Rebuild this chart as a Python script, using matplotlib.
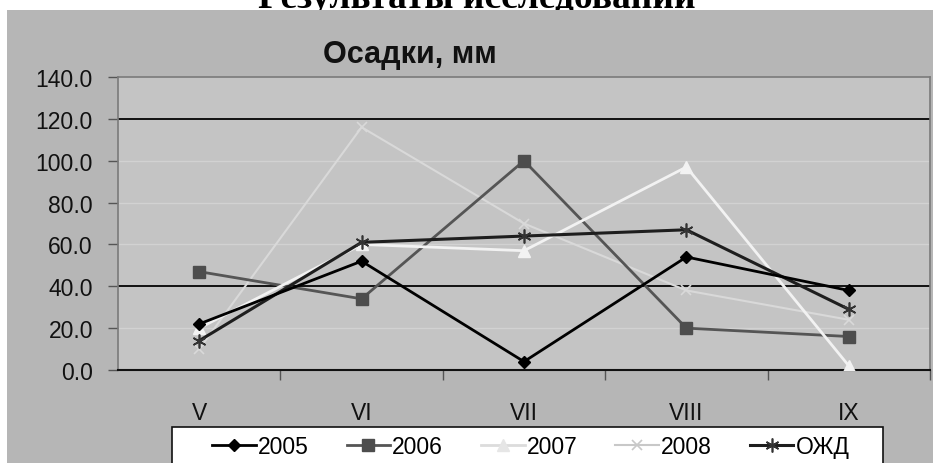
import matplotlib
matplotlib.use("Agg")
from matplotlib import pyplot as plt
from matplotlib.patches import Rectangle
from matplotlib.lines import Line2D

plt.rcParams['font.family'] = ['Liberation Sans', 'DejaVu Sans']

months = ["V", "VI", "VII", "VIII", "IX"]
y2005 = [22, 52, 4, 54, 38]
y2006 = [47, 34, 100, 20, 16]
y2007 = [20, 60, 57, 97, 2]
y2008 = [10, 116, 70, 38, 24]
ozhd = [14, 61, 64, 67, 29]
yticks = [0, 20, 40, 60, 80, 100, 120, 140]

W, H = 940, 464
fig = plt.figure(figsize=(W / 100, H / 100), dpi=100)
fig.patch.set_facecolor("white")

# outer grey chart area
fig.patches.append(Rectangle((7 / W, 0), 926 / W, (H - 11) / H, transform=fig.transFigure,
                             facecolor="#b6b6b6", edgecolor="none", zorder=-2))

# document heading, cut at the top edge like in the scan
fig.text(477 / W, 1 - 8 / H, "Результаты исследований", ha="center", va="baseline",
         fontsize=27, fontweight="bold", family=["Liberation Serif", "DejaVu Serif"], zorder=-3)

fig.text(410 / W, 1 - 63 / H, "Осадки, мм", ha="center", va="baseline",
         fontsize=22, fontweight="bold", color="#111111")

ax = fig.add_axes([118 / W, (H - 371) / H, 812 / W, 293 / H])
ax.set_facecolor("#c4c4c4")
x = list(range(len(months)))

for v in [20, 60, 80, 100]:
    ax.axhline(v, color="#d2d2d2", lw=1, zorder=1)
for v in [40, 120]:
    ax.axhline(v, color="#111111", lw=1.4, zorder=1)

ax.plot(x, y2008, color="#d9d9d9", lw=1.5, marker="x", ms=7, mew=1.2, zorder=2, label="2008")
ax.plot(x, y2006, color="#555555", lw=2, marker="s", ms=8, mfc="#4d4d4d", mec="#4d4d4d", zorder=3, label="2006")
ax.plot(x, y2007, color="#f2f2f2", lw=2, marker="^", ms=8, mfc="#f2f2f2", mec="#f2f2f2", zorder=3, label="2007")
ax.plot(x, ozhd, color="#1e1e1e", lw=2.2, marker=(6, 2, 0), ms=10, mew=1.2, mec="#333333", zorder=4, label="ОЖД")
ax.plot(x, y2005, color="#000000", lw=2, marker="D", ms=6, zorder=5, label="2005")

ax.set_xlim(-0.5, 4.5)
ax.set_ylim(0, 140)
ax.set_yticks(yticks)
ax.set_yticklabels([f"{v:.1f}" for v in yticks])
ax.set_xticks(x)
ax.set_xticklabels(months)
ax.set_xticks([i + 0.5 for i in range(len(months))], minor=True)
ax.tick_params(axis="x", which="major", length=0, pad=22, labelsize=16.5, colors="#111111")
ax.tick_params(axis="x", which="minor", length=7, width=1, color="#555555")
ax.tick_params(axis="y", length=7, width=1, color="#555555", pad=11, labelsize=16.5, labelcolor="#111111")

for side in ["left", "top", "right"]:
    ax.spines[side].set_color("#7a7a7a")
    ax.spines[side].set_linewidth(1.2)
ax.spines["bottom"].set_color("#111111")
ax.spines["bottom"].set_linewidth(1.5)

# legend box, runs off the bottom edge
fig.patches.append(Rectangle((172 / W, -0.02), 711 / W, (464 - 428) / H + 0.02, transform=fig.transFigure,
                             facecolor="white", edgecolor="#111111", lw=1.2, zorder=1))
handles = [
    Line2D([], [], color="#000000", lw=2, marker="D", ms=6),
    Line2D([], [], color="#555555", lw=2, marker="s", ms=8, mfc="#4d4d4d", mec="#4d4d4d"),
    Line2D([], [], color="#dcdcdc", lw=2, marker="^", ms=8, mfc="#e6e6e6", mec="#e6e6e6"),
    Line2D([], [], color="#c8c8c8", lw=1.5, marker="x", ms=7, mew=1.2),
    Line2D([], [], color="#1e1e1e", lw=2.2, marker=(6, 2, 0), ms=10, mew=1.2, mec="#333333"),
]
labels = ["2005", "2006", "2007", "2008", "ОЖД"]
leg = fig.legend(handles, labels, loc="center left", bbox_to_anchor=(212 / W, 1 - 448 / H),
                 ncol=5, frameon=False, fontsize=16.5, handlelength=1.9, handletextpad=0.1,
                 columnspacing=1.65, borderpad=0, borderaxespad=0)

fig.savefig("out.png", dpi=100)
